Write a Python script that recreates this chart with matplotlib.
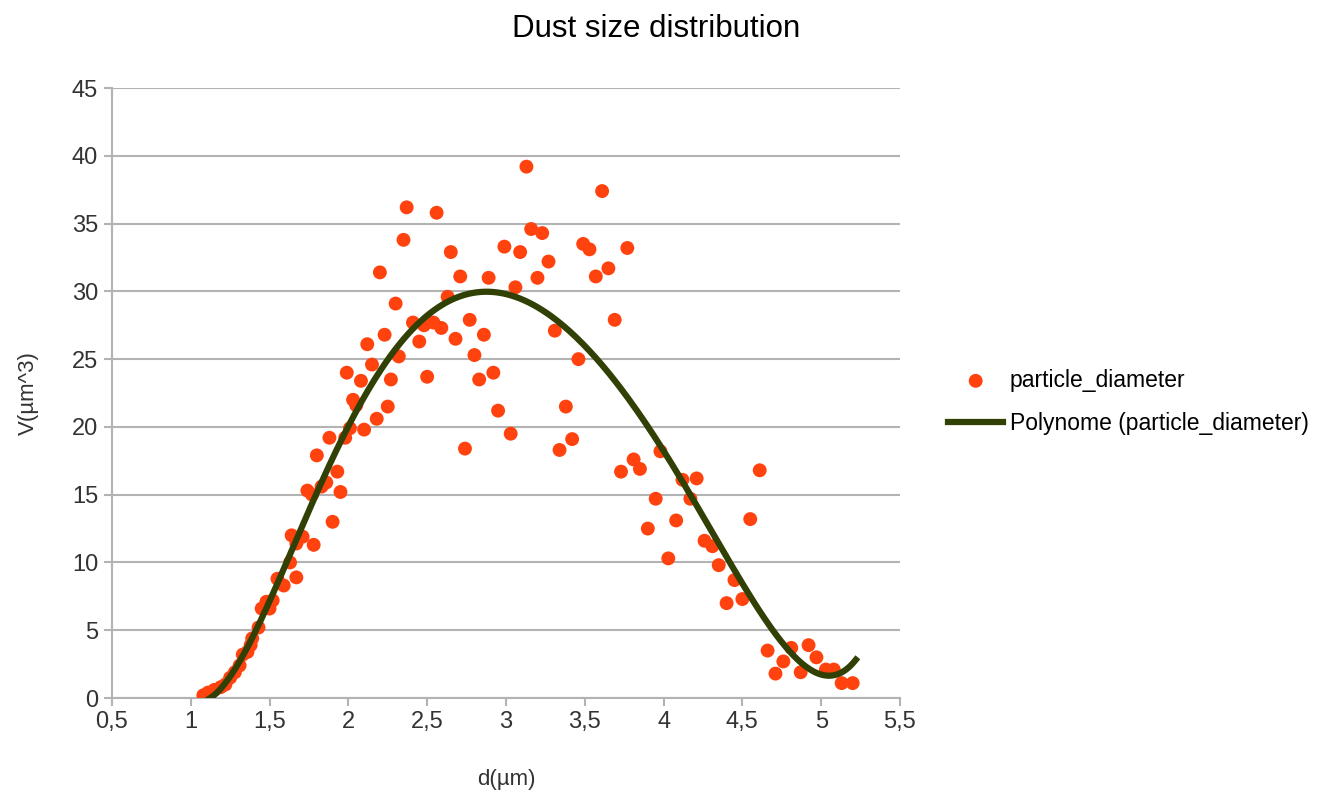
import numpy as np
import matplotlib
matplotlib.use("Agg")
from matplotlib import pyplot as plt
from matplotlib.ticker import FuncFormatter

plt.rcParams['font.family'] = ['Liberation Sans', 'DejaVu Sans']

# particle diameter (um) and volume (um^3)
diameter = [1.08, 1.11, 1.15, 1.19, 1.22, 1.25, 1.28, 1.31, 1.33, 1.36,
            1.38, 1.39, 1.43, 1.45, 1.48, 1.50, 1.52, 1.55, 1.59, 1.63,
            1.64, 1.67, 1.67, 1.71, 1.74, 1.77, 1.78, 1.80, 1.83, 1.86,
            1.88, 1.90, 1.93, 1.95, 1.98, 1.99, 2.01, 2.03, 2.05, 2.08,
            2.10, 2.12, 2.15, 2.18, 2.20, 2.23, 2.25, 2.27, 2.30, 2.32,
            2.35, 2.37, 2.41, 2.45, 2.48, 2.50, 2.54, 2.56, 2.59, 2.63,
            2.65, 2.68, 2.71, 2.74, 2.77, 2.80, 2.83, 2.86, 2.89, 2.92,
            2.95, 2.99, 3.03, 3.06, 3.09, 3.13, 3.16, 3.20, 3.23, 3.27,
            3.31, 3.34, 3.38, 3.42, 3.46, 3.49, 3.53, 3.57, 3.61, 3.65,
            3.69, 3.73, 3.77, 3.81, 3.85, 3.90, 3.95, 3.98, 4.03, 4.08,
            4.12, 4.17, 4.21, 4.26, 4.31, 4.35, 4.40, 4.45, 4.50, 4.55,
            4.61, 4.66, 4.71, 4.76, 4.81, 4.87, 4.92, 4.97, 5.03, 5.08,
            5.13, 5.20]
volume = [0.2, 0.4, 0.6, 0.8, 1.0, 1.5, 1.9, 2.4, 3.2, 3.4,
          3.9, 4.4, 5.2, 6.6, 7.1, 6.6, 7.2, 8.8, 8.3, 10.0,
          12.0, 11.4, 8.9, 11.9, 15.3, 15.0, 11.3, 17.9, 15.6, 15.9,
          19.2, 13.0, 16.7, 15.2, 19.2, 24.0, 19.9, 22.0, 21.6, 23.4,
          19.8, 26.1, 24.6, 20.6, 31.4, 26.8, 21.5, 23.5, 29.1, 25.2,
          33.8, 36.2, 27.7, 26.3, 27.5, 23.7, 27.7, 35.8, 27.3, 29.6,
          32.9, 26.5, 31.1, 18.4, 27.9, 25.3, 23.5, 26.8, 31.0, 24.0,
          21.2, 33.3, 19.5, 30.3, 32.9, 39.2, 34.6, 31.0, 34.3, 32.2,
          27.1, 18.3, 21.5, 19.1, 25.0, 33.5, 33.1, 31.1, 37.4, 31.7,
          27.9, 16.7, 33.2, 17.6, 16.9, 12.5, 14.7, 18.2, 10.3, 13.1,
          16.1, 14.7, 16.2, 11.6, 11.2, 9.8, 7.0, 8.7, 7.3, 13.2,
          16.8, 3.5, 1.8, 2.7, 3.7, 1.9, 3.9, 3.0, 2.1, 2.1,
          1.1, 1.1]

x_ticks = [0.5, 1, 1.5, 2, 2.5, 3, 3.5, 4, 4.5, 5, 5.5]
y_ticks = [0, 5, 10, 15, 20, 25, 30, 35, 40, 45]

# polynomial trend line fitted to the points
coef = np.polyfit(diameter, volume, 6)
xs = np.linspace(min(diameter) + 0.03, max(diameter) + 0.02, 300)
ys = np.polyval(coef, xs)

fig = plt.figure(figsize=(13.2, 7.96), dpi=100)
ax = fig.add_axes([0.0848, 0.1231, 0.5970, 0.7663])

ax.scatter(diameter, volume, s=100, color='#ff420e', edgecolors='none',
           label='particle_diameter', zorder=3)
ax.plot(xs, ys, color='#314004', linewidth=4.5,
        label='Polynome (particle_diameter)', zorder=4)

ax.set_xlim(0.5, 5.5)
ax.set_ylim(0, 45)
ax.set_xticks(x_ticks)
ax.set_yticks(y_ticks)
ax.xaxis.set_major_formatter(FuncFormatter(lambda v, p: ('%g' % v).replace('.', ',')))
ax.tick_params(labelsize=17, colors='#b3b3b3', labelcolor='#333333', length=6, width=1.5)
ax.tick_params(axis='y', pad=4)
ax.grid(axis='y', color='#b3b3b3', linewidth=1.5)
ax.set_axisbelow(True)
for s in ['top', 'right']:
    ax.spines[s].set_visible(False)
for s in ['left', 'bottom']:
    ax.spines[s].set_color('#b3b3b3')
    ax.spines[s].set_linewidth(1.5)

ax.set_xlabel('d(µm)', fontsize=16, color='#333333', labelpad=26)
ax.set_ylabel('V(µm^3)', fontsize=16, color='#333333', labelpad=24)
fig.suptitle('Dust size distribution', fontsize=22.5, x=0.497, y=0.982)

leg = ax.legend(loc='center left', bbox_to_anchor=(1.035, 0.485), frameon=False,
                fontsize=16.5, handlelength=2.4, handletextpad=0.3, labelspacing=0.9)

fig.savefig('out.png', dpi=100)
